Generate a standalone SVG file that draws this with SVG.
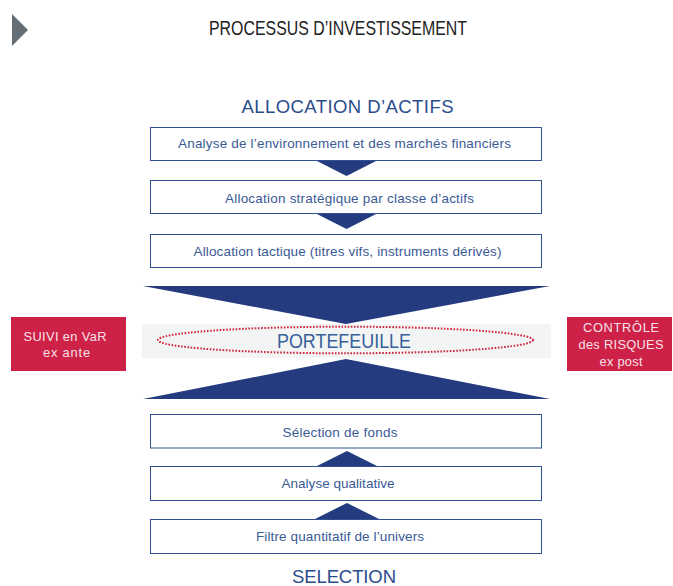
<svg xmlns="http://www.w3.org/2000/svg" width="673" height="586" viewBox="0 0 673 586">
<style>
text{font-family:"Liberation Sans",Arial,sans-serif}
.box{fill:#fff;stroke:#2f5190;stroke-width:1}
.bt{font-size:13.5px;fill:#3a5a96;text-anchor:middle}
.hd{font-size:18.5px;fill:#2b4c8c;text-anchor:middle}
.tri{fill:#243b7f}
.red{fill:#cd2147}
.rt{font-size:12.8px;fill:#f7e1e7;text-anchor:middle}
</style>
<rect width="673" height="586" fill="#fff"/>
<g id="marker-icon"><polygon points="12,14 28,30 12,46" fill="#646e74"/></g>
<g id="title"><text x="338" y="35" font-size="21" fill="#222" text-anchor="middle" textLength="258" lengthAdjust="spacingAndGlyphs">PROCESSUS D’INVESTISSEMENT</text></g>
<g id="allocation-header"><text class="hd" x="347.5" y="113" textLength="212">ALLOCATION D’ACTIFS</text></g>
<g id="connectors">
<polygon class="tri" points="315,160 378,160 346.5,176"/>
<polygon class="tri" points="315,213 378,213 346.5,229"/>
<polygon class="tri" points="143,286 550,286 346,324"/>
<polygon class="tri" points="346,359 550,399 143,399"/>
<polygon class="tri" points="315,467 379,467 347,451"/>
<polygon class="tri" points="315,519 379,519 347,503"/>
</g>
<g id="n-analyse-env"><rect class="box" x="150.5" y="127.5" width="391" height="33"/><text class="bt" x="344.5" y="148.3" textLength="333">Analyse de l’environnement et des marchés financiers</text></g>
<g id="n-alloc-strat"><rect class="box" x="150.5" y="180.5" width="391" height="33"/><text class="bt" x="349.5" y="202.7" textLength="249">Allocation stratégique par classe d’actifs</text></g>
<g id="n-alloc-tact"><rect class="box" x="150.5" y="234.5" width="391" height="33"/><text class="bt" x="347.5" y="256" textLength="308">Allocation tactique (titres vifs, instruments dérivés)</text></g>
<g id="n-portefeuille"><rect x="142" y="324" width="409" height="34" fill="#f3f5f4"/><ellipse cx="345.5" cy="340" rx="187.5" ry="13.3" fill="none" stroke="#d0233f" stroke-width="2" stroke-dasharray="1.6,1.6"/><text x="344" y="348" font-size="20" fill="#36609b" text-anchor="middle" textLength="134" lengthAdjust="spacingAndGlyphs">PORTEFEUILLE</text></g>
<g id="n-suivi"><rect class="red" x="11" y="317" width="115" height="54"/><text class="rt" x="65" y="340.7" textLength="83">SUIVI en VaR</text><text class="rt" x="66.5" y="356.7" textLength="47">ex ante</text></g>
<g id="n-controle"><rect class="red" x="567" y="317" width="105" height="54"/><text class="rt" x="621" y="331.7" textLength="76">CONTRÔLE</text><text class="rt" x="621" y="349" textLength="85">des RISQUES</text><text class="rt" x="621" y="365.7" textLength="43">ex post</text></g>
<g id="n-selection-fonds"><rect class="box" x="150.5" y="414.5" width="391" height="33.5"/><text class="bt" x="340" y="436.7" textLength="115">Sélection de fonds</text></g>
<g id="n-analyse-qual"><rect class="box" x="150.5" y="466.5" width="391" height="34"/><text class="bt" x="338" y="488.3" textLength="113">Analyse qualitative</text></g>
<g id="n-filtre"><rect class="box" x="150.5" y="519.5" width="391" height="34"/><text class="bt" x="340" y="541" textLength="168">Filtre quantitatif de l’univers</text></g>
<g id="selection-footer"><text class="hd" x="344" y="583" font-size="19" textLength="104">SELECTION</text></g>
</svg>
